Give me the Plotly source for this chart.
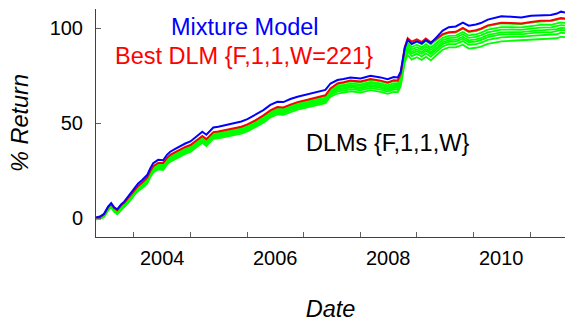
import plotly.graph_objects as go

# Trading dates (sampled)
dates = [
    "2003-05-02", "2003-05-28", "2003-06-23", "2003-07-19", "2003-08-08", "2003-08-27", "2003-09-16", "2003-10-11", "2003-10-31", "2003-12-02",
    "2004-01-03", "2004-01-29", "2004-02-24", "2004-03-27", "2004-04-15", "2004-05-05", "2004-06-06", "2004-07-08", "2004-08-03", "2004-08-23",
    "2004-09-24", "2004-10-26", "2004-11-28", "2004-12-31", "2005-02-10", "2005-03-18", "2005-04-13", "2005-05-08", "2005-05-28", "2005-06-29",
    "2005-07-31", "2005-09-15", "2005-10-30", "2005-11-25", "2006-01-03", "2006-02-23", "2006-04-16", "2006-05-31", "2006-07-15", "2006-08-23",
    "2006-10-07", "2006-11-22", "2007-01-25", "2007-03-31", "2007-05-21", "2007-06-23", "2007-08-07", "2007-09-15", "2007-10-30", "2008-01-03",
    "2008-03-07", "2008-05-11", "2008-06-26", "2008-08-04", "2008-08-30", "2008-09-18", "2008-10-01", "2008-10-14", "2008-11-02", "2008-11-28",
    "2008-12-31", "2009-02-01", "2009-02-27", "2009-03-31", "2009-05-08", "2009-06-16", "2009-07-25", "2009-09-08", "2009-10-24", "2009-12-01",
    "2010-01-16", "2010-02-17", "2010-04-03", "2010-05-27", "2010-06-29", "2010-09-01", "2010-11-05", "2011-01-06", "2011-03-11", "2011-05-15",
    "2011-06-23", "2011-07-19", "2011-08-14",
]

# Cumulative % return of the mixture model
mixture = [
    0.3, 0.8, 2.2, 6.0, 7.8, 5.6, 4.6, 7.2, 8.6, 12.0,
    15.8, 18.2, 20.0, 22.6, 26.0, 28.8, 30.6, 30.4, 33.4, 34.9,
    36.4, 37.9, 39.2, 40.3, 42.8, 45.4, 43.8, 46.2, 47.6, 48.0,
    48.6, 49.2, 50.0, 50.8, 52.0, 54.2, 56.8, 59.5, 61.2, 61.0,
    62.6, 63.8, 65.0, 66.4, 67.4, 70.8, 72.6, 73.2, 74.0, 73.4,
    74.8, 74.0, 73.0, 74.2, 74.0, 77.0, 84.0, 89.5, 93.8, 91.6,
    93.0, 91.8, 93.6, 92.0, 95.2, 98.6, 100.4, 100.8, 102.8, 101.2,
    101.8, 102.6, 104.4, 105.4, 106.2, 105.9, 105.5, 106.4, 106.8, 106.9,
    107.6, 108.6, 108.2,
]

# Best single DLM {F,1,1,W=221}
best_dlm = [
    0.1, 0.5, 1.9, 5.6, 7.4, 5.2, 4.1, 6.7, 8.0, 11.1,
    14.6, 16.9, 18.7, 21.2, 24.6, 27.3, 29.0, 28.9, 31.8, 33.2,
    34.7, 36.1, 37.4, 38.4, 40.7, 43.2, 41.5, 43.8, 45.2, 45.5,
    46.0, 46.5, 47.3, 48.0, 49.3, 51.4, 54.0, 56.6, 58.4, 58.2,
    59.7, 61.0, 62.2, 63.6, 64.6, 68.2, 70.8, 71.4, 72.3, 71.8,
    73.1, 72.3, 71.3, 72.5, 72.4, 75.8, 83.5, 89.8, 94.6, 92.8,
    94.0, 92.6, 94.4, 92.5, 94.4, 96.8, 97.8, 98.0, 100.0, 98.2,
    98.8, 99.6, 101.4, 102.2, 102.8, 102.6, 102.4, 103.2, 103.8, 104.0,
    104.6, 105.2, 105.0,
]

# Individual DLMs {F,1,1,W} for other window lengths
dlm_a = [
    -0.3, 0.1, 1.5, 5.2, 7.0, 4.8, 3.7, 6.3, 7.6, 10.7,
    14.2, 16.5, 18.3, 20.8, 24.2, 26.9, 28.6, 28.5, 31.4, 32.8,
    34.3, 35.7, 37.0, 38.0, 40.3, 42.8, 41.1, 43.4, 44.8, 45.1,
    45.6, 46.1, 46.9, 47.6, 48.9, 51.0, 53.6, 56.2, 58.0, 57.8,
    59.3, 60.6, 61.8, 63.2, 64.2, 67.8, 70.4, 71.0, 71.9, 71.4,
    72.7, 71.9, 70.9, 72.1, 72.0, 75.4, 83.0, 89.0, 93.6, 91.6,
    92.8, 91.5, 93.2, 91.4, 93.8, 96.3, 97.4, 97.6, 99.6, 97.8,
    98.4, 99.2, 101.0, 101.8, 102.4, 102.2, 102.0, 102.8, 103.4, 103.6,
    104.2, 104.8, 104.6,
]
dlm_b = [
    -0.4, 0.0, 1.3, 5.0, 6.7, 4.5, 3.4, 5.9, 7.2, 10.3,
    13.8, 16.0, 17.8, 20.3, 23.6, 26.3, 28.0, 27.9, 30.8, 32.2,
    33.6, 35.0, 36.3, 37.3, 39.7, 42.2, 40.5, 42.8, 44.2, 44.5,
    45.0, 45.5, 46.2, 47.0, 48.2, 50.3, 52.9, 55.5, 57.3, 57.1,
    58.6, 59.9, 61.1, 62.5, 63.4, 67.0, 69.4, 70.0, 70.9, 70.3,
    71.6, 70.8, 69.8, 71.0, 70.8, 74.2, 81.7, 87.6, 92.0, 90.0,
    91.2, 89.8, 91.5, 89.7, 92.2, 94.8, 95.9, 96.0, 97.9, 96.1,
    96.6, 97.4, 99.1, 99.9, 100.5, 100.4, 100.3, 101.0, 101.6, 101.7,
    102.3, 102.9, 102.7,
]
dlm_c = [
    -0.4, -0.1, 1.2, 4.8, 6.5, 4.2, 3.1, 5.6, 6.8, 9.9,
    13.4, 15.7, 17.4, 19.9, 23.2, 25.9, 27.6, 27.4, 30.3, 31.7,
    33.1, 34.5, 35.8, 36.8, 39.2, 41.7, 40.0, 42.3, 43.7, 44.0,
    44.5, 45.0, 45.7, 46.5, 47.7, 49.8, 52.4, 55.0, 56.8, 56.6,
    58.1, 59.3, 60.5, 61.9, 62.9, 66.4, 68.7, 69.3, 70.1, 69.5,
    70.8, 70.0, 68.9, 70.1, 70.0, 73.3, 80.8, 86.5, 90.9, 88.7,
    89.9, 88.6, 90.3, 88.5, 91.0, 93.6, 94.7, 94.9, 96.7, 94.8,
    95.3, 96.1, 97.7, 98.5, 99.1, 99.1, 99.0, 99.7, 100.2, 100.3,
    100.8, 101.5, 101.3,
]
dlm_d = [
    -0.5, -0.2, 1.1, 4.6, 6.3, 4.0, 2.9, 5.3, 6.5, 9.6,
    13.1, 15.4, 17.1, 19.5, 22.8, 25.4, 27.1, 26.9, 29.8, 31.2,
    32.7, 34.1, 35.4, 36.4, 38.7, 41.2, 39.5, 41.8, 43.2, 43.5,
    44.0, 44.5, 45.3, 46.0, 47.2, 49.4, 51.9, 54.6, 56.3, 56.1,
    57.6, 58.8, 60.0, 61.4, 62.3, 65.8, 68.0, 68.5, 69.3, 68.7,
    70.0, 69.2, 68.1, 69.3, 69.1, 72.4, 79.8, 85.5, 89.7, 87.5,
    88.7, 87.4, 89.0, 87.2, 89.8, 92.5, 93.6, 93.7, 95.4, 93.5,
    94.0, 94.7, 96.3, 97.1, 97.7, 97.8, 97.8, 98.4, 98.8, 98.9,
    99.4, 100.1, 99.9,
]
dlm_e = [
    -0.6, -0.3, 0.9, 4.5, 6.1, 3.8, 2.7, 5.0, 6.2, 9.3,
    12.8, 15.1, 16.8, 19.1, 22.4, 25.0, 26.7, 26.5, 29.4, 30.8,
    32.3, 33.7, 35.0, 36.0, 38.3, 40.8, 39.1, 41.4, 42.8, 43.1,
    43.6, 44.1, 44.9, 45.6, 46.8, 49.0, 51.5, 54.2, 55.8, 55.6,
    57.1, 58.4, 59.6, 60.9, 61.8, 65.3, 67.4, 67.9, 68.7, 68.0,
    69.4, 68.5, 67.4, 68.6, 68.4, 71.7, 79.0, 84.6, 88.8, 86.5,
    87.7, 86.4, 88.0, 86.2, 88.8, 91.5, 92.7, 92.8, 94.4, 92.5,
    92.9, 93.6, 95.2, 96.0, 96.6, 96.7, 96.7, 97.3, 97.7, 97.7,
    98.3, 99.0, 98.8,
]
dlm_f = [
    -0.6, -0.4, 0.8, 4.3, 5.9, 3.6, 2.4, 4.7, 5.9, 9.0,
    12.5, 14.7, 16.4, 18.7, 21.9, 24.6, 26.3, 26.0, 28.9, 30.3,
    31.7, 33.1, 34.4, 35.4, 37.8, 40.3, 38.6, 40.9, 42.3, 42.6,
    43.1, 43.6, 44.3, 45.1, 46.3, 48.4, 51.0, 53.6, 55.3, 55.1,
    56.6, 57.8, 59.0, 60.3, 61.2, 64.7, 66.6, 67.1, 67.8, 67.2,
    68.5, 67.6, 66.5, 67.7, 67.5, 70.7, 78.0, 83.5, 87.5, 85.2,
    86.4, 85.0, 86.7, 84.9, 87.6, 90.3, 91.5, 91.5, 93.1, 91.1,
    91.5, 92.2, 93.7, 94.5, 95.1, 95.3, 95.4, 95.9, 96.2, 96.2,
    96.7, 97.5, 97.3,
]
dlm_g = [
    -0.7, -0.5, 0.6, 4.0, 5.6, 3.2, 2.0, 4.2, 5.4, 8.5,
    12.0, 14.2, 15.8, 18.1, 21.3, 23.9, 25.6, 25.3, 28.2, 29.6,
    31.0, 32.4, 33.7, 34.7, 37.1, 39.6, 37.9, 40.2, 41.6, 41.9,
    42.4, 42.9, 43.6, 44.4, 45.5, 47.7, 50.2, 52.9, 54.5, 54.3,
    55.8, 57.0, 58.2, 59.5, 60.4, 63.8, 65.5, 66.0, 66.7, 66.0,
    67.3, 66.4, 65.3, 66.4, 66.2, 69.4, 76.6, 81.9, 85.8, 83.4,
    84.6, 83.2, 84.8, 83.0, 85.8, 88.6, 89.8, 89.8, 91.2, 89.2,
    89.6, 90.2, 91.6, 92.4, 93.0, 93.3, 93.5, 94.0, 94.2, 94.1,
    94.6, 95.4, 95.2,
]
dlm_family = [dlm_a, dlm_b, dlm_c, dlm_d, dlm_e, dlm_f, dlm_g]

# Axis ticks: year boundaries get tick marks, labels sit mid-year
year_starts = ["2004-01-01", "2005-01-01", "2006-01-01", "2007-01-01",
               "2008-01-01", "2009-01-01", "2010-01-01", "2011-01-01"]
label_dates = ["2004-07-01", "2006-07-01", "2008-07-01", "2010-07-01"]
label_text = ["2004", "2006", "2008", "2010"]
y_ticks = [0, 50, 100]

FONT = "Liberation Sans, Arial, Helvetica, sans-serif"
GREEN = "#00FF00"
RED = "#FF0000"
BLUE = "#0000FF"

fig = go.Figure()

for series in dlm_family:
    fig.add_trace(go.Scatter(x=dates, y=series, mode="lines",
                             line=dict(color=GREEN, width=1.8),
                             showlegend=False, hoverinfo="skip"))

fig.add_trace(go.Scatter(x=dates, y=best_dlm, mode="lines",
                         line=dict(color=RED, width=2),
                         showlegend=False))
fig.add_trace(go.Scatter(x=dates, y=mixture, mode="lines",
                         line=dict(color=BLUE, width=2),
                         showlegend=False))

# Year labels centred within each labelled year
for d, t in zip(label_dates, label_text):
    fig.add_annotation(text=t, x=d, xref="x", y=0, yref="paper",
                       yanchor="top", xanchor="center", yshift=-8,
                       showarrow=False,
                       font=dict(family=FONT, size=20, color="black"))

fig.add_annotation(text="Mixture Model", xref="paper", yref="paper",
                   x=0.3177, y=0.922, xanchor="center", yanchor="middle",
                   showarrow=False, font=dict(family=FONT, size=23.5, color=BLUE))
fig.add_annotation(text="Best DLM {F,1,1,W=221}", xref="paper", yref="paper",
                   x=0.3156, y=0.792, xanchor="center", yanchor="middle",
                   showarrow=False, font=dict(family=FONT, size=23.5, color=RED))
fig.add_annotation(text="DLMs {F,1,1,W}", xref="paper", yref="paper",
                   x=0.6205, y=0.412, xanchor="center", yanchor="middle",
                   showarrow=False, font=dict(family=FONT, size=23.5, color="black"))

fig.update_layout(
    width=565, height=322,
    margin=dict(l=96, r=0, t=9, b=85),
    paper_bgcolor="white", plot_bgcolor="white",
    font=dict(family=FONT, color="black"),
    showlegend=False,
)

fig.update_xaxes(
    type="date",
    range=["2003-05-02", "2011-08-14"],
    showline=True, linecolor="#404040", linewidth=1,
    showgrid=False, zeroline=False,
    tickmode="array", tickvals=year_starts,
    ticktext=[""] * len(year_starts),
    ticks="inside", ticklen=5, tickcolor="#606060", tickwidth=1,
    title=dict(text="Date", font=dict(family=FONT, size=23.5, style="italic"),
               standoff=64),
)

fig.update_yaxes(
    range=[-10, 110],
    showline=True, linecolor="#404040", linewidth=1,
    showgrid=False, zeroline=False,
    tickmode="array", tickvals=y_ticks,
    ticks="inside", ticklen=5, tickcolor="#606060",
    tickfont=dict(family=FONT, size=20, color="black"),
    ticklabelstandoff=8,
    title=dict(text="% Return", font=dict(family=FONT, size=23.5, style="italic"),
               standoff=14),
)

fig.write_html("out.html")
